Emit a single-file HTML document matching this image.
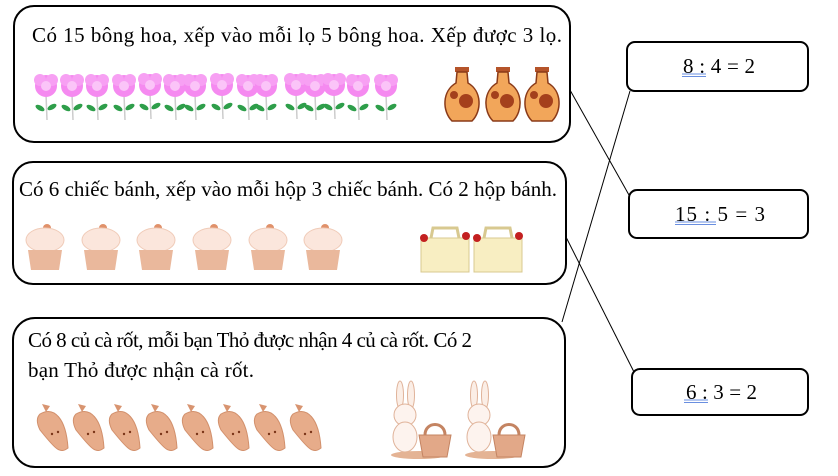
<!DOCTYPE html>
<html><head><meta charset="utf-8"><style>
html,body{margin:0;padding:0;background:#fff;width:838px;height:476px;overflow:hidden}
svg{display:block}
text{font-family:"Liberation Serif",serif;font-size:21px;fill:#000}
</style></head><body>
<svg width="838" height="476" viewBox="0 0 838 476" xmlns="http://www.w3.org/2000/svg">
<defs>
<g id="fl">
<line x1="0" y1="8" x2="1" y2="34" stroke="#ccc" stroke-width="1.5"/>
<ellipse cx="-6" cy="22" rx="5" ry="2.5" fill="#2e9e4a" transform="rotate(30 -6 22)"/>
<ellipse cx="6" cy="21" rx="5" ry="2.5" fill="#2e9e4a" transform="rotate(-30 6 21)"/>
<circle cx="0" cy="0" r="11" fill="#f58af0"/>
<circle cx="-6" cy="-6" r="6" fill="#f7a0f3"/><circle cx="6" cy="-6" r="6" fill="#f7a0f3"/>
<circle cx="0" cy="0" r="5" fill="#fbc4f8"/>
</g>
<g id="vs">
<rect x="-7" y="0" width="14" height="5" fill="#b5542a"/>
<path d="M-5 5 L5 5 L6 16 C20 24 20 44 10 54 L-10 54 C-20 44 -20 24 -6 16 Z" fill="#f2a65a" stroke="#8a3a18" stroke-width="1.5"/>
<circle cx="4" cy="34" r="7" fill="#a4401c"/><circle cx="-8" cy="28" r="4" fill="#a4401c"/>
</g>
<g id="cc">
<circle cx="2" cy="-20" r="4" fill="#e0916a"/>
<ellipse cx="0" cy="-8" rx="19" ry="12" fill="#fbe6dc" stroke="#f0cbb8"/>
<path d="M-17 2 L17 2 L14 22 L-14 22 Z" fill="#eab89c"/>
</g>
<g id="bx">
<path d="M0 10 L48 10 L48 44 L0 44 Z" fill="#f8eec2" stroke="#d8c990"/>
<path d="M10 10 L12 0 L36 0 L38 10" fill="none" stroke="#d8c990" stroke-width="3"/>
<circle cx="3" cy="10" r="4" fill="#c32020"/><circle cx="45" cy="8" r="4" fill="#c32020"/>
</g>
<g id="ca">
<path d="M2 -4 L6 4 L10 -2" fill="#d89470"/>
<path d="M0 6 C14 -2 26 10 28 40 C20 46 16 42 0 22 C-4 14 -3 9 0 6 Z" fill="#e7ac8a" stroke="#d2906c"/>
<circle cx="12" cy="26" r="1.2" fill="#7a3518"/><circle cx="18" cy="24" r="1.2" fill="#7a3518"/>
</g>
<g id="bn">
<ellipse cx="-5" cy="0" rx="3.5" ry="14" fill="#fbeee6" stroke="#e0b39a"/>
<ellipse cx="6" cy="0" rx="3.5" ry="14" fill="#fbeee6" stroke="#e0b39a"/>
<circle cx="0" cy="20" r="11" fill="#fdf3ee" stroke="#e0b39a"/>
<ellipse cx="0" cy="42" rx="12" ry="15" fill="#fdf3ee" stroke="#e0b39a"/>
<ellipse cx="14" cy="60" rx="28" ry="4" fill="#e4b394"/>
<path d="M14 40 L46 40 L42 62 L18 62 Z" fill="#e2a888" stroke="#c48462"/>
<path d="M20 40 C20 26 40 26 40 40" fill="none" stroke="#c48462" stroke-width="3"/>
</g>
</defs>

<rect x="14" y="6" width="556" height="136" rx="20" fill="#fff" stroke="#000" stroke-width="2"/>
<rect x="13" y="162" width="553" height="122" rx="20" fill="#fff" stroke="#000" stroke-width="2"/>
<rect x="13" y="318" width="552" height="149" rx="22" fill="#fff" stroke="#000" stroke-width="2"/>

<rect x="627" y="42" width="181" height="49" rx="8" fill="#fff" stroke="#000" stroke-width="2"/>
<rect x="629" y="190" width="179" height="48" rx="8" fill="#fff" stroke="#000" stroke-width="2"/>
<rect x="632" y="369" width="176" height="46" rx="8" fill="#fff" stroke="#000" stroke-width="2"/>

<line x1="570" y1="90" x2="629" y2="195" stroke="#000" stroke-width="1"/>
<line x1="562" y1="322" x2="630" y2="91" stroke="#000" stroke-width="1"/>
<line x1="566" y1="237" x2="634" y2="372" stroke="#000" stroke-width="1"/>

<text x="32" y="42" textLength="530" lengthAdjust="spacing">Có 15 bông hoa, xếp vào mỗi lọ 5 bông hoa. Xếp được 3 lọ.</text>
<text x="19" y="196" textLength="538" lengthAdjust="spacing">Có 6 chiếc bánh, xếp vào mỗi hộp 3 chiếc bánh. Có 2 hộp bánh.</text>
<text x="28" y="347" textLength="444" lengthAdjust="spacing">Có 8 củ cà rốt, mỗi bạn Thỏ được nhận 4 củ cà rốt. Có 2</text>
<text x="28" y="377" textLength="226" lengthAdjust="spacing">bạn Thỏ được nhận cà rốt.</text>

<text x="683" y="73" textLength="72" lengthAdjust="spacing">8 : 4 = 2</text>
<line x1="682" y1="74" x2="706" y2="74" stroke="#6a8fe0" stroke-width="1"/><line x1="682" y1="76.5" x2="706" y2="76.5" stroke="#6a8fe0" stroke-width="1"/>
<text x="675" y="221" textLength="90" lengthAdjust="spacing">15  : 5 = 3</text>
<line x1="675" y1="222" x2="716" y2="222" stroke="#6a8fe0" stroke-width="1"/><line x1="675" y1="224.5" x2="716" y2="224.5" stroke="#6a8fe0" stroke-width="1"/>
<text x="686" y="399" textLength="71" lengthAdjust="spacing">6 : 3 = 2</text>
<line x1="684" y1="400" x2="708" y2="400" stroke="#6a8fe0" stroke-width="1"/><line x1="684" y1="402.5" x2="708" y2="402.5" stroke="#6a8fe0" stroke-width="1"/>

<g>
<use href="#fl" x="46" y="86"/><use href="#fl" x="72" y="86"/><use href="#fl" x="97" y="86"/><use href="#fl" x="124" y="86"/><use href="#fl" x="150" y="85"/>
<use href="#fl" x="175" y="86"/><use href="#fl" x="195" y="86"/><use href="#fl" x="222" y="85"/><use href="#fl" x="248" y="86"/><use href="#fl" x="266" y="86"/>
<use href="#fl" x="296" y="85"/><use href="#fl" x="315" y="86"/><use href="#fl" x="334" y="85"/><use href="#fl" x="358" y="86"/><use href="#fl" x="386" y="86"/>
</g>
<use href="#vs" x="462" y="67"/><use href="#vs" x="503" y="67"/><use href="#vs" x="542" y="67"/>

<use href="#cc" x="45" y="248"/><use href="#cc" x="101" y="248"/><use href="#cc" x="156" y="248"/><use href="#cc" x="212" y="248"/><use href="#cc" x="268" y="248"/><use href="#cc" x="323" y="248"/>
<use href="#bx" x="421" y="228"/><use href="#bx" x="474" y="228"/>

<use href="#ca" x="40" y="408"/><use href="#ca" x="76" y="408"/><use href="#ca" x="112" y="408"/><use href="#ca" x="149" y="408"/>
<use href="#ca" x="185" y="408"/><use href="#ca" x="221" y="408"/><use href="#ca" x="257" y="408"/><use href="#ca" x="293" y="408"/>
<use href="#bn" x="405" y="395"/><use href="#bn" x="479" y="395"/>
</svg>
</body></html>
